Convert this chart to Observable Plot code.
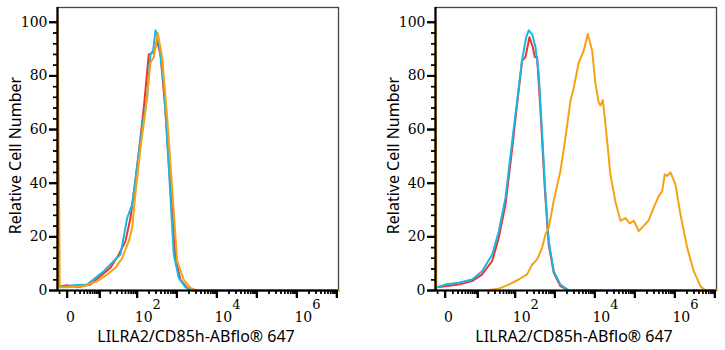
<!DOCTYPE html>
<html>
<head>
<meta charset="utf-8">
<script src="https://cdn.jsdelivr.net/npm/d3@7"></script>
<script src="https://cdn.jsdelivr.net/npm/@observablehq/plot@0.6"></script>
<style>
  html, body { margin: 0; padding: 0; background: #fff; overflow: hidden; }
  #wrap { display: flex; flex-direction: row; width: 725px; height: 350px; }
</style>
</head>
<body>
<div id="wrap"></div>
<script>
// ---------- data (fluorescence intensity vs. relative cell number) ----------
const xAxisTitle = "LILRA2/CD85h-ABflo® 647";
const yAxisTitle = "Relative Cell Number";
const seriesNames = ["red", "cyan", "orange"];
const seriesColors = ["#e8372c", "#1cb5e6", "#f5a214"];

// left panel
const leftRedX = [-0.96, 0, 1.41, 5.11, 10.5, 20.1, 33.5, 50.1, 67.4, 90, 116, 147, 197, 263, 320, 388, 517, 690, 921, 1229, 1808, 2645, 1.1e7];
const leftRedY = [1.5, 2, 1.2, 2.2, 5.4, 8.5, 13.4, 18.4, 27, 41, 54.5, 68, 88, 88.8, 93, 88, 67, 38, 12, 4, 1, 0, 0];
const leftCyanX = [-0.96, 0.84, 3.91, 7.42, 13.1, 24.7, 37.1, 55.4, 74.5, 100, 134, 179, 217, 254, 290, 351, 469, 626, 835, 1114, 1640, 2412, 1.1e7];
const leftCyanY = [1.2, 2, 2.2, 4.7, 7.2, 11, 13.4, 27, 32, 46, 61, 72, 88, 89.4, 97, 93, 77, 46, 13.4, 4.7, 1.2, 0, 0];
const leftOrangeX = [-1.34, -1.34, -0.96, 0, 2.9, 8.4, 16.3, 27.4, 41, 61, 74.5, 90, 121, 162, 217, 263, 331, 427, 571, 762, 1016, 1486, 2187, 3217, 1.1e7];
const leftOrangeY = [0, 101, 1.2, 1.2, 1.6, 3.5, 6, 8.5, 12, 18.4, 23.4, 36, 53, 67, 85, 87, 96, 87, 64.5, 38, 11, 4, 1, 0, 0];

// right panel
const rightRedX = [-1.1, 0, 2.1, 6.75, 13.4, 25.3, 37.8, 56.5, 84, 112, 150, 182, 230, 279, 313, 359, 435, 558, 702, 937, 1379, 2225, 1.1e7];
const rightRedY = [1.2, 1.6, 2.2, 3.5, 6, 11, 19.7, 32, 53, 69.5, 85.7, 87, 94.4, 90.7, 87, 87, 67, 38, 17, 6.6, 1.6, 0, 0];
const rightCyanX = [-1.1, 0, 2.1, 6.75, 13.4, 25.3, 37.8, 56.5, 84, 112, 150, 190, 221, 269, 326, 394, 480, 581, 702, 937, 1379, 2225, 1.1e7];
const rightCyanY = [1.2, 2.2, 2.9, 4.1, 7.2, 13.4, 22, 34.6, 55.8, 70.7, 86, 94.4, 97, 95.6, 90.7, 80.7, 58.3, 35.9, 18.4, 7.2, 2.2, 0, 0];
const rightOrangeX = [-1.34, -1.34, -1.2, 20.5, 37.8, 68.6, 123, 201, 269, 359, 480, 581, 702, 937, 1379, 1839, 2455, 2968, 3958, 5278, 6646, 8563, 10355, 12520, 13805, 15765, 18413, 24560, 32750, 43670, 58240, 74590, 93900, 125200, 164100, 218800, 297000, 396000, 481700, 559300, 642200, 776500, 1035000, 1380000, 2031000, 2970000, 4367000, 5825000, 1.1e7];
const rightOrangeY = [0, 101, 0, 0.2, 0.7, 2.2, 4.1, 6, 9.7, 11.6, 16, 21, 23.4, 33.5, 44.6, 57, 70.7, 75.7, 85, 89.4, 95.6, 89.4, 77, 70, 69, 71, 62, 43, 33, 26, 27, 25, 26, 22.2, 24, 26, 31, 35.2, 37.1, 43.3, 42.7, 44, 39.6, 28.4, 16, 7.2, 1.6, 0, 0];

// axes
const xDomain = [-1.35, 1.1e7];
const yDomain = [0, 105.5];
const xMajorTicks = [0, 10, 100, 1e3, 1e4, 1e5, 1e6, 1e7];
const xMinorTicks = [-1, 1].concat(d3.range(0, 7).flatMap(k => d3.range(2, 10).map(m => m * 10 ** k)));
const xZeroLabel = [0];
const xPowerTickValues = [100, 1e4, 1e6];
const xPowerExponents = ["2", "4", "6"];
const yMajorTicks = [0, 20, 40, 60, 80, 100];
const yMinorTicks = d3.range(0, 101, 4).filter(v => v % 20 !== 0);

// ---------- build ----------
function toRows(xs, ys, name) { return xs.map((x, i) => ({x, y: ys[i], name})); }

const leftSeries = [toRows(leftRedX, leftRedY, "red"), toRows(leftCyanX, leftCyanY, "cyan"), toRows(leftOrangeX, leftOrangeY, "orange")];
const rightSeries = [toRows(rightRedX, rightRedY, "red"), toRows(rightCyanX, rightCyanY, "cyan"), toRows(rightOrangeX, rightOrangeY, "orange")];

const serif = "DejaVu Serif";
const sans = "Noto Sans";

function panel(series, width, marginRight) {
  return Plot.plot({
    width, height: 350,
    marginTop: 7, marginBottom: 60, marginLeft: 57, marginRight,
    style: {fontFamily: serif, fontSize: "14px", background: "white", color: "black"},
    x: {type: "symlog", constant: 1.81, domain: xDomain, axis: null},
    y: {domain: yDomain, axis: null},
    marks: [
      Plot.frame({stroke: "#444", strokeWidth: 1.3}),
      ...series.map((rows, i) => Plot.line(rows, {x: "x", y: "y", stroke: seriesColors[i], strokeWidth: 2, strokeLinejoin: "round"})),
      Plot.ruleY([yDomain[0]], {stroke: "black", strokeWidth: 2.2}),
      Plot.ruleX([xDomain[0]], {stroke: "black", strokeWidth: 2.2}),
      // x ticks
      Plot.axisX({ticks: xMajorTicks, tickSize: 8, tickFormat: () => "", label: null, stroke: "black", strokeWidth: 2}),
      Plot.axisX({ticks: xMinorTicks, tickSize: 4, tickFormat: () => "", label: null, stroke: "black", strokeWidth: 1.4}),
      Plot.ruleX(xMajorTicks, {x: d => d, y1: yDomain[0], y2: yDomain[0], insetBottom: -8, stroke: "black", strokeWidth: 2}),
      Plot.ruleX(xMinorTicks, {x: d => d, y1: yDomain[0], y2: yDomain[0], insetBottom: -4, stroke: "black", strokeWidth: 1.4}),
      // x labels
      Plot.text(xZeroLabel, {x: d => d, text: d => String(d), frameAnchor: "bottom", dy: 31.7, dx: 3.3, lineAnchor: "bottom", fontFamily: serif, fontSize: 14}),
      Plot.text(xPowerTickValues, {x: d => d, text: () => "10", frameAnchor: "bottom", dy: 31.7, dx: 6.5, lineAnchor: "bottom", fontFamily: serif, fontSize: 14}),
      Plot.text(xPowerTickValues, {x: d => d, text: (d, i) => xPowerExponents[i], frameAnchor: "bottom", dy: 18.5, dx: 19.5, lineAnchor: "bottom", fontFamily: serif, fontSize: 13}),
      // y ticks and labels
      Plot.axisY({ticks: yMajorTicks, tickSize: 8, tickPadding: 2, label: null, stroke: "black", strokeWidth: 2, fontFamily: serif, fontSize: 14}),
      Plot.axisY({ticks: yMinorTicks, tickSize: 4, tickFormat: () => "", label: null, stroke: "black", strokeWidth: 1.4}),
      Plot.ruleY(yMajorTicks, {y: d => d, x1: xDomain[0], x2: xDomain[0], insetLeft: -8, stroke: "black", strokeWidth: 2}),
      Plot.ruleY(yMinorTicks, {y: d => d, x1: xDomain[0], x2: xDomain[0], insetLeft: -4, stroke: "black", strokeWidth: 1.4}),
      // titles
      Plot.text([xAxisTitle], {text: d => d, frameAnchor: "bottom", dy: 46, dx: -2, lineAnchor: "middle", textAnchor: "middle", fontFamily: sans, fontSize: 16}),
      Plot.text([yAxisTitle], {text: d => d, frameAnchor: "left", rotate: -90, dx: -42, dy: 6.5, lineAnchor: "middle", textAnchor: "middle", fontFamily: sans, fontSize: 16})
    ]
  });
}

const wrap = document.getElementById("wrap");
wrap.appendChild(panel(leftSeries, 378, 40));
wrap.appendChild(panel(rightSeries, 347, 9));
</script>
</body>
</html>
